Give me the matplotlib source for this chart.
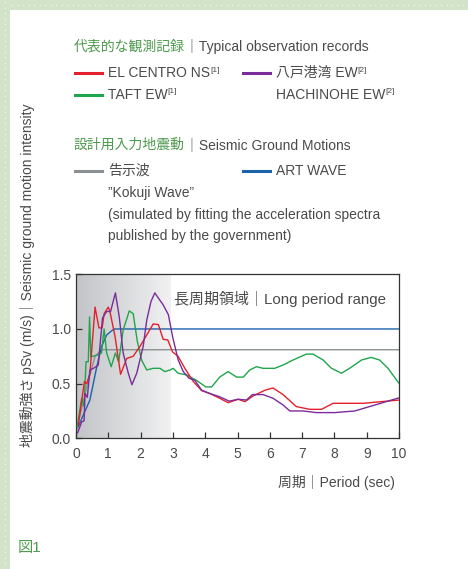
import numpy as np
import matplotlib.pyplot as plt
from matplotlib.lines import Line2D
from matplotlib.patches import Rectangle
from matplotlib.colors import LinearSegmentedColormap

plt.rcParams['font.family'] = ['Liberation Sans', 'Noto Sans CJK JP', 'DejaVu Sans']

W, H = 468, 569

# 応答スペクトル（周期 sec / pSv m/s）
elc_x = [0.07, 0.26, 0.33, 0.43, 0.59, 0.71, 0.81, 0.87, 1.0, 1.05, 1.21, 1.38, 1.57, 1.77,
         1.98, 2.19, 2.39, 2.55, 2.70, 2.84, 2.99, 3.16, 3.37, 3.63, 3.89, 4.14, 4.45, 4.71,
         5.02, 5.23, 5.48, 5.85, 6.10, 6.41, 6.82, 7.24, 7.60, 7.96, 8.89, 10.0]
elc_y = [0.12, 0.52, 0.50, 0.59, 1.20, 1.01, 1.01, 1.14, 1.20, 1.16, 0.93, 0.585, 0.73, 0.75,
         0.84, 0.945, 1.046, 1.04, 0.905, 0.90, 0.79, 0.75, 0.64, 0.52, 0.436, 0.41, 0.366, 0.326,
         0.357, 0.335, 0.387, 0.44, 0.46, 0.40, 0.29, 0.265, 0.265, 0.32, 0.32, 0.35]

hac_x = [0.05, 0.175, 0.25, 0.28, 0.35, 0.43, 0.54, 0.69, 0.82, 0.95, 1.07, 1.22, 1.34, 1.46,
         1.62, 1.73, 1.88, 2.08, 2.19, 2.32, 2.44, 2.58, 2.70, 2.86, 2.99, 3.16, 3.32, 3.50,
         3.68, 3.89, 4.14, 4.45, 4.74, 5.02, 5.28, 5.46, 5.79, 6.10, 6.41, 6.62, 7.03, 7.44,
         8.01, 8.63, 10.0]
hac_y = [0.05, 0.15, 0.16, 0.41, 0.375, 0.625, 0.64, 0.67, 1.10, 1.16, 1.16, 1.33, 1.11, 0.78,
         0.595, 0.49, 0.595, 0.84, 1.08, 1.25, 1.33, 1.27, 1.22, 1.13, 0.93, 0.72, 0.61, 0.55,
         0.53, 0.44, 0.41, 0.38, 0.34, 0.357, 0.35, 0.40, 0.40, 0.366, 0.305, 0.25, 0.25, 0.235,
         0.235, 0.25, 0.37]

taft_x = [0.04, 0.175, 0.25, 0.31, 0.38, 0.42, 0.46, 0.64, 0.79, 0.87, 0.95, 1.09, 1.22, 1.32,
          1.46, 1.65, 1.77, 1.90, 2.03, 2.19, 2.39, 2.60, 2.75, 2.91, 3.01, 3.16, 3.42, 3.73,
          4.02, 4.20, 4.45, 4.71, 4.97, 5.18, 5.38, 5.59, 5.79, 6.15, 6.41, 6.72, 7.13, 7.34,
          7.65, 7.91, 8.22, 8.47, 8.84, 9.14, 9.40, 9.66, 10.0]
taft_y = [0.107, 0.366, 0.29, 0.70, 0.70, 1.11, 0.745, 0.76, 0.78, 1.0, 0.78, 0.655, 0.78, 0.70,
          0.99, 1.165, 1.14, 0.885, 0.716, 0.625, 0.64, 0.64, 0.61, 0.625, 0.64, 0.595, 0.58, 0.53,
          0.47, 0.47, 0.56, 0.61, 0.56, 0.56, 0.625, 0.655, 0.64, 0.64, 0.67, 0.716, 0.77, 0.77,
          0.716, 0.64, 0.595, 0.64, 0.716, 0.74, 0.716, 0.64, 0.503]

kokuji_x = [0.02, 0.33, 0.59, 0.79, 10.0]
kokuji_y = [0.076, 0.47, 0.75, 0.81, 0.81]

art_x = [0.07, 0.43, 0.64, 0.79, 0.95, 1.11, 1.2, 10.0]
art_y = [0.107, 0.35, 0.65, 0.84, 0.945, 0.985, 1.0, 1.0]

c_red = '#e5202e'
c_purple = '#7a2d99'
c_green = '#1ea64c'
c_gray = '#8b9094'
c_blue = '#1c62ad'
c_text = '#4a4a4a'
c_head = '#4e9a4e'

fig = plt.figure(figsize=(W / 100, H / 100), dpi=100)
fig.patch.set_facecolor('white')


def fx(px):
    return px / W


def fy(py):
    return 1 - py / H


# 枠の飾り（左と上の点線帯）
bg = fig.add_axes([0, 0, 1, 1], zorder=-5)
bg.set_xlim(0, W)
bg.set_ylim(H, 0)
bg.axis('off')
bg.add_patch(Rectangle((0, 0), 10, H, color='#d3e3c9', lw=0))
bg.add_patch(Rectangle((0, 0), W, 10, color='#d3e3c9', lw=0))
dots_y = np.arange(2, H, 5.5)
bg.scatter(np.full(len(dots_y), 5), dots_y, s=0.6, color='white', lw=0)
dots_x = np.arange(12, W, 5.5)
bg.scatter(dots_x, np.full(len(dots_x), 5), s=0.6, color='white', lw=0)

renderer = fig.canvas.get_renderer()


def put(px, py, parts, size=10):
    # 複数の文字列を横に並べて描く
    x = fx(px)
    for s, color, sz, dy in parts:
        t = fig.text(x, fy(py + dy), s, color=color, fontsize=sz or size, va='center', ha='left')
        bb = t.get_window_extent(renderer)
        x = fx(bb.x1)


def legend_line(px, py, color):
    fig.add_artist(Line2D([fx(px), fx(px + 27)], [fy(py), fy(py)], color=color, lw=2.2))


put(74, 47, [('代表的な観測記録', c_head, None, 0), ('｜Typical observation records', c_text, None, 0)])
legend_line(75, 73, c_red)
put(108, 73, [('EL CENTRO NS', c_text, None, 0), ('[1]', c_text, 6, -3)])
legend_line(243, 73, c_purple)
put(276, 73, [('八戸港湾 EW', c_text, None, 0), ('[2]', c_text, 6, -3)])
legend_line(75, 95, c_green)
put(108, 95, [('TAFT EW', c_text, None, 0), ('[1]', c_text, 6, -3)])
put(276, 95, [('HACHINOHE EW', c_text, None, 0), ('[2]', c_text, 6, -3)])

put(74, 145, [('設計用入力地震動', c_head, None, 0), ('｜Seismic Ground Motions', c_text, None, 0)])
legend_line(75, 171, c_gray)
put(108, 171, [('告示波', c_text, None, 0)])
legend_line(243, 171, c_blue)
put(276, 171, [('ART WAVE', c_text, None, 0)])
put(108, 193, [('”Kokuji Wave”', c_text, None, 0)])
put(108, 215, [('(simulated by fitting the acceleration spectra', c_text, None, 0)])
put(108, 236, [('published by the government)', c_text, None, 0)])

# グラフ本体
ax = fig.add_axes([fx(76), fy(438.3), fx(399) - fx(76), fy(274.3) - fy(438.3)])
shade = LinearSegmentedColormap.from_list('shade', ['#c2c4c7', '#f1f1f2'])
grad = np.linspace(0, 1, 256).reshape(1, -1)
ax.imshow(grad, extent=[0, 2.93, 0, 1.5], aspect='auto', cmap=shade,
          interpolation='bicubic', zorder=0)

ax.plot(kokuji_x, kokuji_y, color=c_gray, lw=1.0, zorder=2)
ax.plot(art_x, art_y, color=c_blue, lw=1.0, zorder=2)
ax.plot(taft_x, taft_y, color=c_green, lw=1.0, zorder=3)
ax.plot(elc_x, elc_y, color=c_red, lw=1.0, zorder=3)
ax.plot(hac_x, hac_y, color=c_purple, lw=1.0, zorder=4)

ax.set_xlim(0, 10)
ax.set_ylim(0, 1.5)
ax.set_xticks(range(0, 11))
ax.set_yticks([0.0, 0.5, 1.0, 1.5])
ax.set_yticklabels(['0.0', '0.5', '1.0', '1.5'])
ax.tick_params(direction='in', length=4, width=0.9, color='#333333', labelcolor=c_text,
               labelsize=10)
ax.tick_params(axis='x', pad=6)
for sp in ax.spines.values():
    sp.set_color('#333333')
    sp.set_linewidth(0.9)

ax.text(3.03, 1.275, '長周期領域｜Long period range', fontsize=10.8, color=c_text,
        va='center', ha='left')

put(278, 483, [('周期｜Period (sec)', c_text, None, 0)])
fig.text(fx(27), fy(447), '地震動強さ pSv (m/s)｜Seismic ground motion intensity',
         rotation=90, color=c_text, fontsize=10, ha='center', va='bottom')

put(18, 548, [('図1', c_head, 11, 0)])

fig.savefig('out.png', dpi=100)
